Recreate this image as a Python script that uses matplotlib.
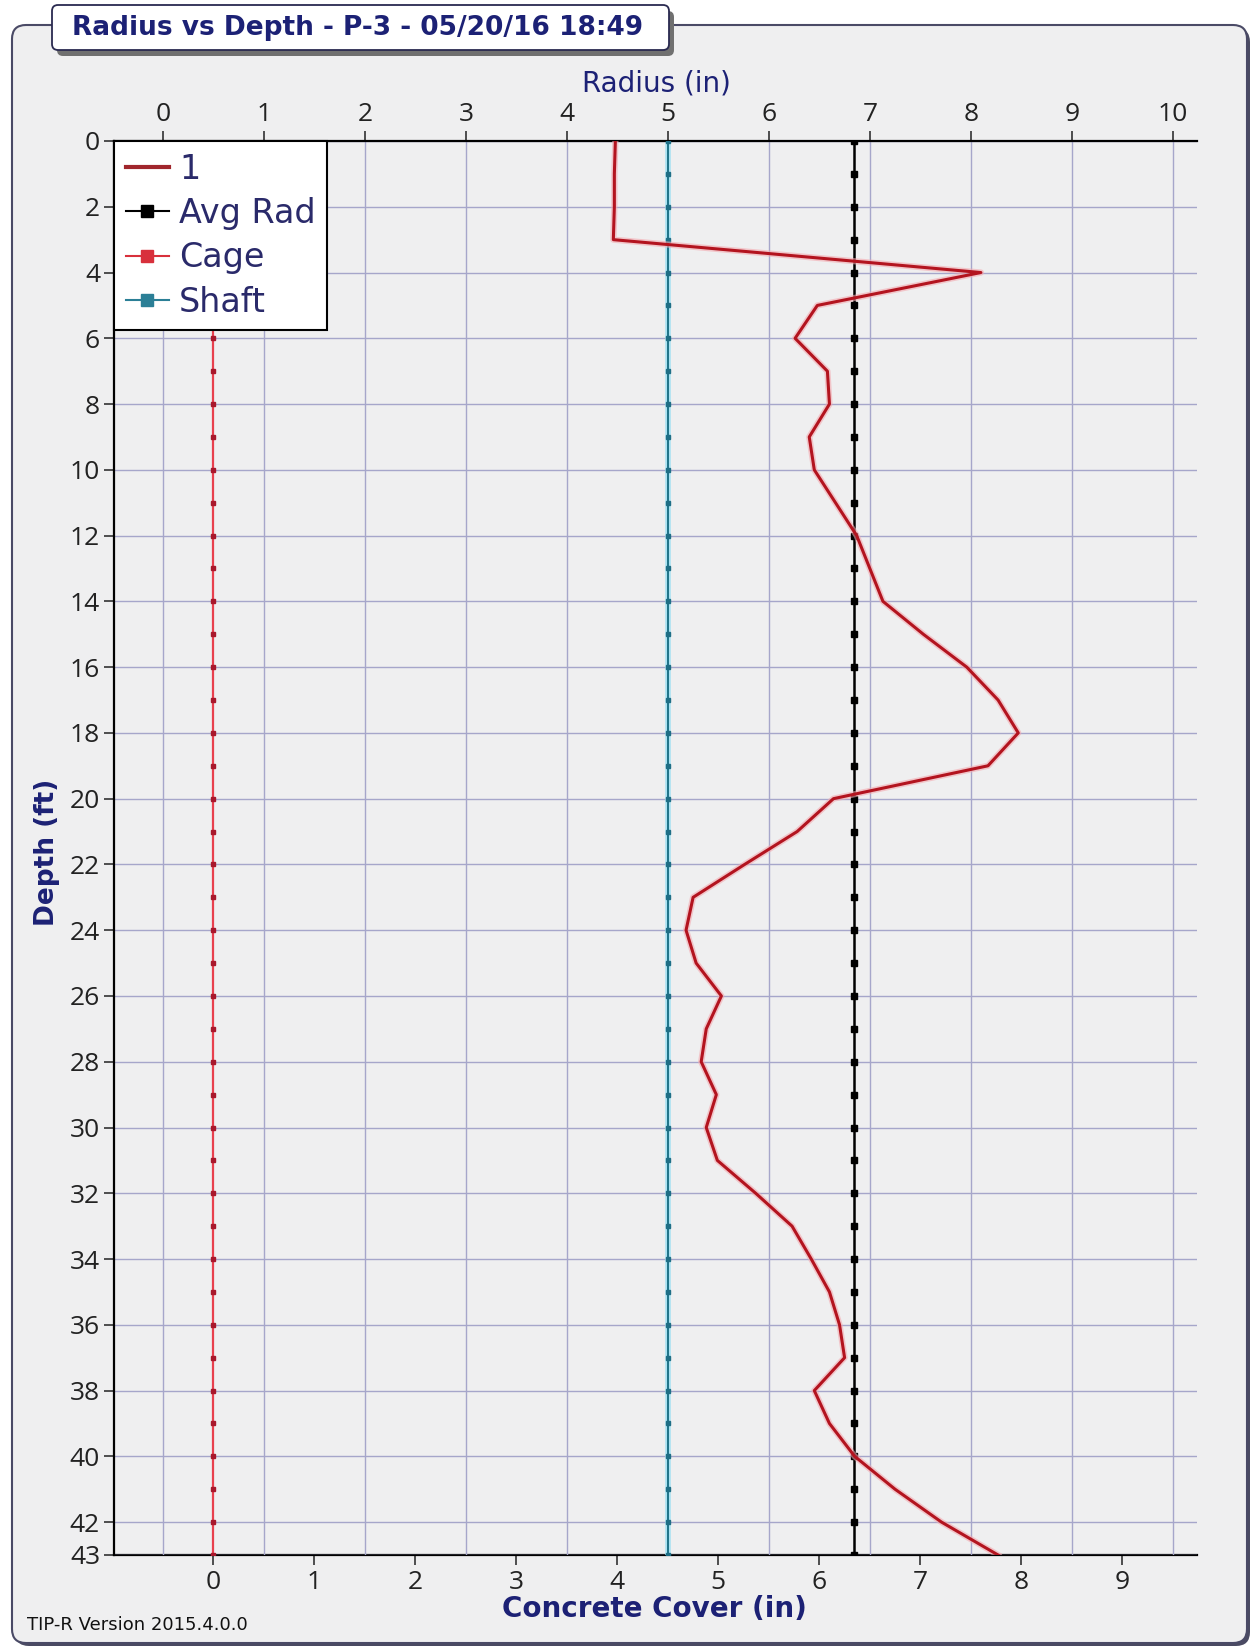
import matplotlib

matplotlib.use("Agg")
import matplotlib.pyplot as plt
from matplotlib.lines import Line2D
from matplotlib.patches import FancyBboxPatch

# --- data ---
depth_ft = list(range(0, 44))
radius_in = [4.48, 4.47, 4.47, 4.46, 8.10, 6.48, 6.26, 6.58, 6.60, 6.40,
             6.45, 6.66, 6.87, 7.00, 7.13, 7.53, 7.96, 8.27, 8.47, 8.17,
             6.64, 6.28, 5.76, 5.25, 5.18, 5.28, 5.53, 5.38, 5.33, 5.48,
             5.38, 5.49, 5.87, 6.23, 6.42, 6.60, 6.70, 6.75, 6.45, 6.60,
             6.85, 7.25, 7.71, 8.27]
avg_radius_in = 6.84
cage_radius_in = 0.5
shaft_radius_in = 5.0

radius_ticks = list(range(0, 11))
cover_ticks = list(range(0, 10))
depth_ticks = list(range(0, 43, 2)) + [43]

title = "Radius vs Depth - P-3 - 05/20/16 18:49"
version = "TIP-R Version 2015.4.0.0"

NAVY = "#1c2175"
W, H = 1254, 1648

fig = plt.figure(figsize=(W / 100, H / 100), dpi=100)
fig.patch.set_facecolor("white")

# background layer in pixel coordinates (panel + title box)
bg = fig.add_axes([0, 0, 1, 1], zorder=-1)
bg.set_xlim(0, W)
bg.set_ylim(H, 0)
bg.axis("off")

bg.add_patch(FancyBboxPatch((15, 28), 1235, 1618, boxstyle="round,pad=0,rounding_size=14",
                            fc="#4a4a62", ec="none"))
bg.add_patch(FancyBboxPatch((12, 25), 1235, 1618, boxstyle="round,pad=0,rounding_size=14",
                            fc="#efeff0", ec="#4a4a66", lw=1.5))
bg.add_patch(FancyBboxPatch((57, 11), 617, 45, boxstyle="round,pad=0,rounding_size=6",
                            fc="#707070", ec="none"))
bg.add_patch(FancyBboxPatch((52, 5), 617, 45, boxstyle="round,pad=0,rounding_size=6",
                            fc="white", ec="#2a2a50", lw=1.3))
bg.text(72, 28, title, fontsize=19, fontweight="bold", color=NAVY,
        family="DejaVu Sans", ha="left", va="center")
bg.text(27, 1625, version, fontsize=13, color="#111111", family="DejaVu Sans",
        ha="left", va="center")
bg.text(656, 83, "Radius (in)", fontsize=20, color=NAVY, family="DejaVu Sans",
        ha="center", va="center")
bg.text(47, 852, "Depth (ft)", fontsize=19, fontweight="bold", color=NAVY,
        family="DejaVu Sans", ha="center", va="center", rotation=90)
bg.text(654, 1609, "Concrete Cover (in)", fontsize=20, fontweight="bold", color=NAVY,
        family="DejaVu Sans", ha="center", va="center")

# main plot
ax = fig.add_axes([114 / W, 1 - 1555 / H, (1197 - 114) / W, (1555 - 141) / H])
ax.set_facecolor("none")

n = len(depth_ft)
ax.plot([shaft_radius_in] * n, depth_ft, color="#a8e2f2", lw=4, zorder=2)
ax.plot([shaft_radius_in] * n, depth_ft, color="#1f7288", lw=1.4, marker="s",
        ms=3.5, mfc="#1f6f86", mec="#1f6f86", zorder=3)
ax.plot([cage_radius_in] * n, depth_ft, color="#e8404e", lw=1.6, marker="s",
        ms=3.5, mfc="#a8182c", mec="#a8182c", zorder=3)
ax.plot([avg_radius_in] * n, depth_ft, color="black", lw=1.8, marker="s",
        ms=3.8, mfc="black", mec="black", zorder=3)
ax.plot(radius_in, depth_ft, color="#f4a9b0", lw=4.5, alpha=0.6, zorder=4)
ax.plot(radius_in, depth_ft, color="#b3141f", lw=2.2, zorder=5)

ax.set_xlim(-0.485, 10.24)
ax.set_ylim(43, 0)

ax.xaxis.tick_top()
ax.set_xticks(radius_ticks)
ax.set_yticks(depth_ticks)
ax.grid(True, color="#a6a6ca", lw=1.0)
ax.set_axisbelow(True)

for side in ["right", "bottom"]:
    ax.spines[side].set_visible(False)
for side in ["top", "left"]:
    ax.spines[side].set_linewidth(1.6)

tick_font = {"family": "Open Sans", "size": 19}
ax.tick_params(axis="both", direction="out", length=7, width=1.1, color="#222222",
               labelcolor="#222222", pad=3)
for lab in ax.get_xticklabels() + ax.get_yticklabels():
    lab.set_fontfamily(tick_font["family"])
    lab.set_fontsize(tick_font["size"])

sec = ax.secondary_xaxis("bottom", functions=(lambda r: r - cage_radius_in,
                                              lambda c: c + cage_radius_in))
sec.set_xticks(cover_ticks)
sec.spines["bottom"].set_linewidth(1.6)
sec.tick_params(direction="out", length=7, width=1.1, color="#222222",
                labelcolor="#222222", pad=4)
for lab in sec.get_xticklabels():
    lab.set_fontfamily(tick_font["family"])
    lab.set_fontsize(tick_font["size"])

handles = [
    Line2D([], [], color="#a0262c", lw=3),
    Line2D([], [], color="black", lw=1.5, marker="s", ms=8),
    Line2D([], [], color="#d8303c", lw=1.5, marker="s", ms=8),
    Line2D([], [], color="#2b7f96", lw=1.5, marker="s", ms=8),
]
leg = ax.legend(handles, ["1", "Avg Rad", "Cage", "Shaft"], loc="upper left",
                bbox_to_anchor=(0, 1), borderaxespad=0, fancybox=False,
                edgecolor="black", framealpha=1, labelcolor="#2a2a6a",
                prop={"family": "DejaVu Sans", "size": 24},
                handlelength=1.3, handletextpad=0.3, labelspacing=0.34,
                borderpad=0.35)
leg.get_frame().set_linewidth(1.5)
leg.set_zorder(10)

fig.savefig("out.png", dpi=100)
